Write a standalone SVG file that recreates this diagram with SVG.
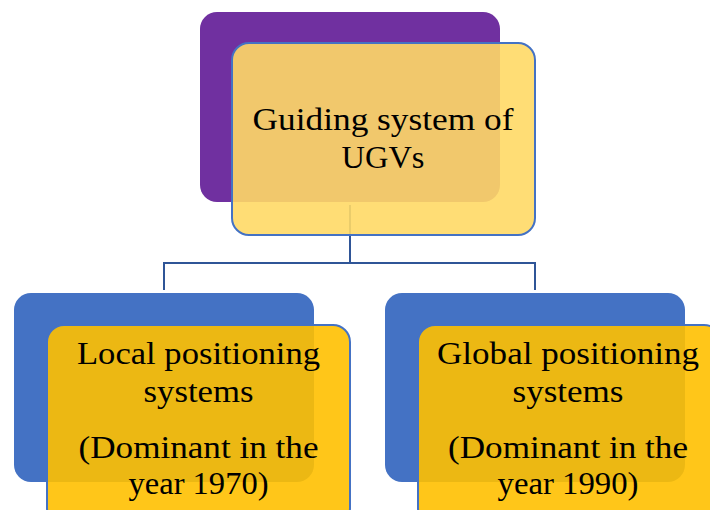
<svg xmlns="http://www.w3.org/2000/svg" width="710" height="510" viewBox="0 0 710 510">
<style>
.back-top{fill:#7030A0}
.back{fill:#4472C4}
.front-top{fill:#FFD966;fill-opacity:0.9;stroke:#4472C4;stroke-width:2}
.front{fill:#FFC000;fill-opacity:0.9;stroke:#4472C4;stroke-width:2}
.conn{fill:none;stroke:#2F5597;stroke-width:2}
text{font-family:"Liberation Serif","DejaVu Serif",serif;font-size:32px;fill:#000;text-anchor:middle}
</style>
<rect width="710" height="510" fill="#fff"/>
<g id="connectors">
<path class="conn" d="M350,205 V263 M164,290 V263 H535 V290"/>
</g>
<g id="node-top">
<rect class="back-top" x="200" y="12" width="300" height="190" rx="17"/>
<rect class="front-top" x="232" y="43" width="303" height="192" rx="17"/>
<text x="383" y="130" textLength="261" lengthAdjust="spacingAndGlyphs">Guiding system of</text>
<text x="383" y="168" textLength="83" lengthAdjust="spacingAndGlyphs">UGVs</text>
</g>
<g id="node-local">
<rect class="back" x="14" y="293" width="300" height="189" rx="17"/>
<rect class="front" x="47" y="325" width="303" height="200" rx="17"/>
<text x="198.5" y="364" textLength="243" lengthAdjust="spacingAndGlyphs">Local positioning</text>
<text x="198.5" y="402" textLength="110" lengthAdjust="spacingAndGlyphs">systems</text>
<text x="198.5" y="458" textLength="240" lengthAdjust="spacingAndGlyphs">(Dominant in the</text>
<text x="198.5" y="494" textLength="140" lengthAdjust="spacingAndGlyphs">year 1970)</text>
</g>
<g id="node-global">
<rect class="back" x="385" y="293" width="300" height="189" rx="17"/>
<rect class="front" x="418" y="325" width="303" height="200" rx="17"/>
<text x="568" y="364" textLength="262" lengthAdjust="spacingAndGlyphs">Global positioning</text>
<text x="568" y="402" textLength="111" lengthAdjust="spacingAndGlyphs">systems</text>
<text x="568" y="458" textLength="240" lengthAdjust="spacingAndGlyphs">(Dominant in the</text>
<text x="568" y="494" textLength="141" lengthAdjust="spacingAndGlyphs">year 1990)</text>
</g>
</svg>
